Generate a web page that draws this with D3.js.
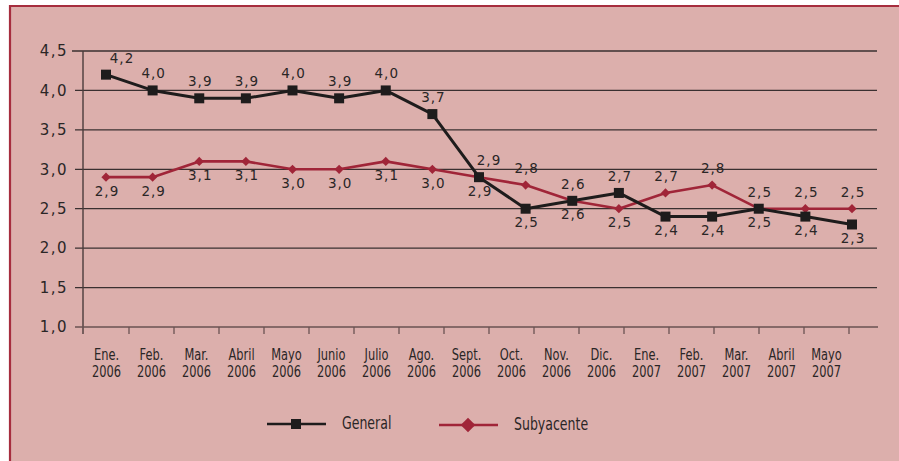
<!DOCTYPE html>
<html>
<head>
<meta charset="utf-8">
<script src="https://cdn.jsdelivr.net/npm/d3@7"></script>
<style>
  html, body { margin: 0; padding: 0; background: #ffffff; }
  svg { display: block; }
</style>
</head>
<body>
<svg id="chart" width="899" height="461"></svg>
<script>
// Inflación general y subyacente, enero 2006 – mayo 2007 (%)
const categories = [
  "Ene. 2006", "Feb. 2006", "Mar. 2006", "Abril 2006", "Mayo 2006", "Junio 2006",
  "Julio 2006", "Ago. 2006", "Sept. 2006", "Oct. 2006", "Nov. 2006", "Dic. 2006",
  "Ene. 2007", "Feb. 2007", "Mar. 2007", "Abril 2007", "Mayo 2007"
];
const general    = [4.2, 4.0, 3.9, 3.9, 4.0, 3.9, 4.0, 3.7, 2.9, 2.5, 2.6, 2.7, 2.4, 2.4, 2.5, 2.4, 2.3];
const subyacente = [2.9, 2.9, 3.1, 3.1, 3.0, 3.0, 3.1, 3.0, 2.9, 2.8, 2.6, 2.5, 2.7, 2.8, 2.5, 2.5, 2.5];
const yTicks = [1.0, 1.5, 2.0, 2.5, 3.0, 3.5, 4.0, 4.5];
const seriesNames = ["General", "Subyacente"];

const BG = "#dcafac";
const FRAME = "#a62d3e";
const RED = "#a02538";
const NUM_FONT = "'DejaVu Sans', sans-serif";
const TXT_FONT = "'DejaVu Sans Condensed', 'Liberation Sans', sans-serif";
const SQUEEZE = 0.82; // horizontal compression of the condensed captions

const es = d3.formatLocale({ decimal: ",", thousands: ".", grouping: [3], currency: ["", ""] });
const fmt = es.format(".1f");

const svg = d3.select("#chart");

// panel background with frame on the top and left edges
svg.append("rect").attr("x", 10).attr("y", 6).attr("width", 889).attr("height", 455).attr("fill", BG);
svg.append("path")
  .attr("d", "M10,461 V6 H899")
  .attr("fill", "none").attr("stroke", FRAME).attr("stroke-width", 2.2);

// scales
const y = d3.scaleLinear().domain([1, 4.5]).range([327, 51]);
const xBand = d3.scaleBand().domain(categories).range([84, 849]);   // axis ticks & labels
const xPt = d3.scalePoint().domain(categories).range([106, 852]);   // plotted points

// horizontal gridlines
svg.append("g").selectAll("line").data(yTicks.slice(1)).join("line")
  .attr("x1", d => d === 4.5 ? 72 : 75).attr("x2", 877)
  .attr("y1", d => y(d)).attr("y2", d => y(d))
  .attr("stroke", "#3a3030").attr("stroke-width", 1.3);

// y axis
const yAxis = svg.append("g").attr("transform", "translate(83,0)")
  .call(d3.axisLeft(y).tickValues(yTicks).tickFormat(fmt).tickSize(0).tickPadding(15));
yAxis.select(".domain").remove();
yAxis.selectAll("text")
  .attr("dy", "0.32em")
  .attr("font-family", NUM_FONT).attr("font-size", 15).attr("letter-spacing", 1.5)
  .attr("fill", "#2a2626");
svg.append("line")
  .attr("x1", 83).attr("x2", 83).attr("y1", y(4.5)).attr("y2", 334)
  .attr("stroke", "#4a3c3c").attr("stroke-width", 1.4);

// x axis line and ticks at band edges
svg.append("line")
  .attr("x1", 75).attr("x2", 878).attr("y1", y(1)).attr("y2", y(1))
  .attr("stroke", "#6a5252").attr("stroke-width", 1.6);
const edges = categories.map(c => xBand(c)).concat([xBand.range()[1]]);
svg.append("g").selectAll("line").data(edges.slice(1)).join("line")
  .attr("x1", d => d).attr("x2", d => d)
  .attr("y1", y(1)).attr("y2", y(1) + 7)
  .attr("stroke", "#6a5252").attr("stroke-width", 1.3);

// two-line month labels
const xl = svg.append("g").selectAll("text").data(categories).join("text")
  .attr("transform", d => `translate(${xBand(d) + xBand.bandwidth() / 2},0) scale(${SQUEEZE},1)`)
  .attr("text-anchor", "middle")
  .attr("font-family", TXT_FONT).attr("font-size", 15.5).attr("fill", "#2a2626");
xl.append("tspan").attr("x", 0).attr("y", 360).text(d => d.split(" ")[0]);
xl.append("tspan").attr("x", 0).attr("y", 377).text(d => d.split(" ")[1]);

// series lines
const line = d3.line().x((d, i) => xPt(categories[i])).y(d => y(d));
svg.append("path").datum(subyacente).attr("d", line)
  .attr("fill", "none").attr("stroke", RED).attr("stroke-width", 2.6).attr("stroke-linejoin", "round");
svg.append("path").datum(general).attr("d", line)
  .attr("fill", "none").attr("stroke", "#1e1c1c").attr("stroke-width", 3).attr("stroke-linejoin", "round");

const diamond = r => `M0,${-r}L${r},0L0,${r}L${-r},0Z`;

// markers
svg.append("g").selectAll("path").data(subyacente).join("path")
  .attr("transform", (d, i) => `translate(${xPt(categories[i])},${y(d)})`)
  .attr("d", diamond(4.6)).attr("fill", RED);
svg.append("g").selectAll("rect").data(general).join("rect")
  .attr("x", (d, i) => xPt(categories[i]) - 5).attr("y", d => y(d) - 5)
  .attr("width", 10).attr("height", 10).attr("fill", "#1e1c1c");

// value labels: the general series sits above while it leads, else below
const generalAbove = i => i <= 8 || i === 11;
const labelShift = i => (i === 0 ? 15 : i === 8 ? 9 : 0);
function valueLabels(values, above) {
  svg.append("g").selectAll("text").data(values).join("text")
    .attr("x", (d, i) => xPt(categories[i]) + labelShift(i) * (above === generalAbove ? 1 : 0) + 1)
    .attr("y", (d, i) => y(d) + (above(i) ? -12 : 18.5))
    .attr("text-anchor", "middle")
    .attr("font-family", NUM_FONT).attr("font-size", 13.5).attr("letter-spacing", 1)
    .attr("fill", "#2a2626")
    .text(d => fmt(d));
}
valueLabels(general, generalAbove);
valueLabels(subyacente, i => !generalAbove(i));

// legend
const lg = svg.append("g");
lg.append("line").attr("x1", 267).attr("x2", 326).attr("y1", 424).attr("y2", 424)
  .attr("stroke", "#1e1c1c").attr("stroke-width", 2.6);
lg.append("rect").attr("x", 291).attr("y", 419).attr("width", 10).attr("height", 10).attr("fill", "#1e1c1c");
lg.append("text").attr("transform", `translate(342,429) scale(${SQUEEZE},1)`)
  .attr("font-family", TXT_FONT).attr("font-size", 17).attr("fill", "#2a2626").text(seriesNames[0]);
lg.append("line").attr("x1", 439).attr("x2", 498).attr("y1", 425).attr("y2", 425)
  .attr("stroke", RED).attr("stroke-width", 2.6);
lg.append("path").attr("transform", "translate(468,425)").attr("d", diamond(7.3)).attr("fill", RED);
lg.append("text").attr("transform", `translate(514,430) scale(${SQUEEZE},1)`)
  .attr("font-family", TXT_FONT).attr("font-size", 17).attr("fill", "#2a2626").text(seriesNames[1]);
</script>
</body>
</html>
